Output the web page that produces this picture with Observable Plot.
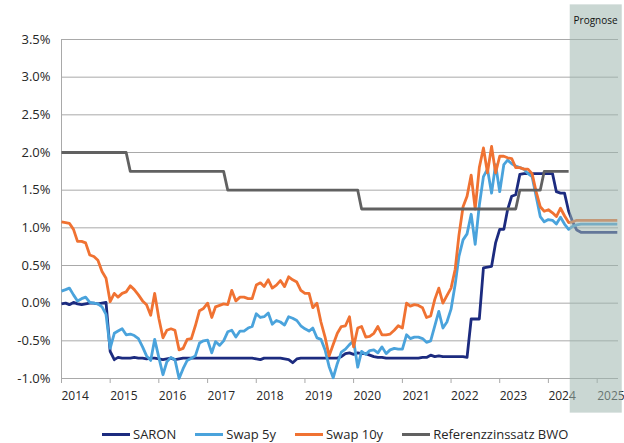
<!DOCTYPE html>
<html><head><meta charset="utf-8">
<script src="https://cdn.jsdelivr.net/npm/d3@7"></script>
<script src="https://cdn.jsdelivr.net/npm/@observablehq/plot@0.6"></script>
<style>
html,body{margin:0;padding:0;background:#fff;overflow:hidden;width:624px;height:443px;position:relative;font-family:"Open Sans",sans-serif;}
#legend{position:absolute;left:102px;top:426px;height:17px;display:flex;align-items:center;font-size:13px;color:#262626;line-height:17px;white-space:nowrap;}
.item{display:flex;align-items:center;margin-right:19px;}
.sw{width:28px;height:3px;margin-right:3px;}
</style></head><body>
<div id="chart"></div>
<div id="legend"></div>
<script>
// Series names and colours
const seriesNames = ["SARON", "Swap 5y", "Swap 10y", "Referenzzinssatz BWO"];
const seriesColors = ["#1c2b7f", "#4aa3dc", "#f07232", "#616161"];

// Monthly values, Jan 2014 (index 0) .. Jun 2024 (index 125), in %
const saron = [
  -0.01, 0.00, -0.02, 0.01, -0.01, -0.02, -0.01, 0.00, 0.00, -0.01, 0.00, 0.01,
  -0.64, -0.75, -0.72, -0.73, -0.73, -0.73, -0.72, -0.73, -0.73, -0.74, -0.73, -0.73,
  -0.74, -0.75, -0.74, -0.73, -0.75, -0.74, -0.73, -0.73, -0.73, -0.73, -0.73, -0.73,
  -0.73, -0.73, -0.73, -0.73, -0.73, -0.73, -0.73, -0.73, -0.73, -0.73, -0.73, -0.73,
  -0.74, -0.75, -0.73, -0.73, -0.73, -0.73, -0.73, -0.74, -0.75, -0.79, -0.74, -0.73,
  -0.73, -0.73, -0.73, -0.73, -0.73, -0.73, -0.73, -0.73, -0.73, -0.71, -0.67, -0.66,
  -0.68, -0.66, -0.67, -0.67, -0.69, -0.71, -0.72, -0.72, -0.73, -0.73, -0.73, -0.73,
  -0.73, -0.73, -0.73, -0.73, -0.73, -0.72, -0.72, -0.69, -0.71, -0.70, -0.71, -0.71,
  -0.71, -0.71, -0.71, -0.71, -0.72, -0.21, -0.21, -0.21, 0.47, 0.48, 0.49, 0.80,
  0.98, 0.98, 1.24, 1.42, 1.44, 1.71, 1.72, 1.72, 1.72, 1.72, 1.72, 1.72,
  1.72, 1.72, 1.48, 1.46, 1.46, 1.22
];
const swap5y = [
  0.16, 0.18, 0.20, 0.11, 0.03, 0.06, 0.08, 0.01, 0.00, -0.01, -0.05, -0.15,
  -0.60, -0.40, -0.37, -0.34, -0.42, -0.41, -0.43, -0.47, -0.58, -0.70, -0.76, -0.48,
  -0.72, -0.95, -0.78, -0.72, -0.75, -1.00, -0.87, -0.76, -0.73, -0.70, -0.53, -0.50,
  -0.49, -0.66, -0.51, -0.56, -0.50, -0.38, -0.36, -0.45, -0.37, -0.37, -0.33, -0.31,
  -0.14, -0.19, -0.18, -0.13, -0.28, -0.23, -0.25, -0.29, -0.18, -0.20, -0.23, -0.30,
  -0.34, -0.37, -0.33, -0.46, -0.48, -0.62, -0.84, -0.99, -0.80, -0.65, -0.61, -0.55,
  -0.50, -0.85, -0.64, -0.68, -0.63, -0.62, -0.66, -0.58, -0.67, -0.62, -0.60, -0.61,
  -0.61, -0.42, -0.47, -0.45, -0.45, -0.47, -0.52, -0.50, -0.30, -0.11, -0.33, -0.25,
  -0.08, 0.25, 0.62, 0.84, 0.92, 1.18, 0.78, 1.30, 1.68, 1.78, 1.46, 1.84,
  1.48, 1.84, 1.90, 1.85, 1.82, 1.80, 1.78, 1.72, 1.68, 1.42, 1.15, 1.08,
  1.11, 1.10, 1.05, 1.14, 1.05, 0.98
];
const swap10y = [
  1.08, 1.07, 1.06, 0.98, 0.82, 0.82, 0.80, 0.64, 0.62, 0.57, 0.42, 0.33,
  0.02, 0.13, 0.08, 0.13, 0.15, 0.23, 0.18, 0.11, 0.03, -0.02, -0.16, 0.13,
  -0.20, -0.46, -0.36, -0.34, -0.36, -0.62, -0.60, -0.48, -0.47, -0.30, -0.10, -0.07,
  0.00, -0.19, -0.05, -0.03, -0.01, -0.02, 0.17, 0.03, 0.08, 0.08, 0.06, 0.06,
  0.24, 0.27, 0.22, 0.31, 0.20, 0.24, 0.30, 0.22, 0.35, 0.31, 0.28, 0.17,
  0.13, 0.13, -0.06, 0.00, -0.25, -0.45, -0.70, -0.55, -0.40, -0.31, -0.30, -0.18,
  -0.58, -0.33, -0.31, -0.45, -0.44, -0.40, -0.31, -0.42, -0.42, -0.41, -0.36, -0.30,
  -0.33, 0.00, -0.04, -0.02, -0.03, -0.06, -0.19, -0.17, 0.05, 0.20, 0.00, 0.10,
  0.20, 0.45, 0.90, 1.28, 1.42, 1.70, 1.25, 1.80, 2.06, 1.73, 2.08, 1.73,
  1.95, 1.95, 1.93, 1.92, 1.80, 1.80, 1.78, 1.78, 1.72, 1.48, 1.28, 1.22,
  1.24, 1.20, 1.15, 1.26, 1.16, 1.07
];

// Forecast values, Jul 2024 (index 126) .. Jun 2025 (index 137)
const saronForecast  = [1.08, 0.97, 0.94, 0.94, 0.94, 0.94, 0.94, 0.94, 0.94, 0.94, 0.94, 0.94];
const swap5yForecast = [1.02, 1.04, 1.05, 1.05, 1.05, 1.05, 1.05, 1.05, 1.05, 1.05, 1.05, 1.05];
const swap10yForecast= [1.08, 1.10, 1.10, 1.10, 1.10, 1.10, 1.10, 1.10, 1.10, 1.10, 1.10, 1.10];

// Referenzzinssatz: vertices (month index since Jan 2014, value)
const refMonths = [0, 16, 17, 40, 41, 73, 74, 112, 113, 118, 119, 125];
const refValues = [2.00, 2.00, 1.75, 1.75, 1.50, 1.50, 1.25, 1.25, 1.50, 1.50, 1.75, 1.75];

// Axis ticks
const yTicks = [-1.0, -0.5, 0.0, 0.5, 1.0, 1.5, 2.0, 2.5, 3.0, 3.5];
const yearTicks = [2014, 2015, 2016, 2017, 2018, 2019, 2020, 2021, 2022, 2023, 2024, 2025];

// Forecast period
const forecastStart = "2024-06-13";
const forecastEnd = "2025-07-08";
const forecastLabel = "Prognose";

const monthDate = i => new Date(Date.UTC(2014, i, 1));
const toRows = (hist, fc) => [...hist, ...fc].map((v, i) => ({date: monthDate(i), value: v}));
const rows = [
  toRows(saron, saronForecast),
  toRows(swap5y, swap5yForecast),
  toRows(swap10y, swap10yForecast),
  refMonths.map((m, i) => ({date: monthDate(m), value: refValues[i]}))
];

const xStart = new Date(Date.UTC(2014, 0, 1));
const xEnd = new Date(Date.UTC(2025, 5, 10));
const gridColor = "#a9a9a9";

const chart = Plot.plot({
  width: 624, height: 420,
  marginTop: 39, marginBottom: 42, marginLeft: 61, marginRight: 6,
  style: {fontFamily: "'Open Sans', sans-serif", fontSize: "13px", color: "#262626", background: "#fff"},
  x: {type: "utc", domain: [xStart, xEnd], label: null},
  y: {domain: [-1, 3.5], label: null},
  marks: [
    Plot.gridY(yTicks, {stroke: gridColor, strokeOpacity: 1, strokeWidth: 1}),
    Plot.ruleX([xStart], {stroke: gridColor, strokeWidth: 1}),
    Plot.ruleY([-1], {stroke: gridColor, strokeWidth: 1}),
    Plot.axisY(yTicks, {tickSize: 0, tickPadding: 11, tickFormat: d => d.toFixed(1) + "%", label: null}),
    Plot.axisX(yearTicks.map(y => new Date(Date.UTC(y, 0, 1))), {tickSize: 5, tickFormat: () => "", stroke: gridColor, label: null}),
    Plot.axisX(yearTicks.map(y => new Date(Date.UTC(y, 0, 1))), {tickSize: 0, tickPadding: 13, tickFormat: "%Y", textAnchor: "start", dx: 0, fontSize: 12, label: null}),
    ...rows.map((r, i) => Plot.line(r, {x: "date", y: "value", stroke: seriesColors[i], strokeWidth: 2.8, strokeLinejoin: "round", strokeLinecap: "butt"})),
    Plot.rect([{x1: new Date(forecastStart), x2: new Date(forecastEnd)}], {x1: "x1", x2: "x2", y1: -1.46, y2: 3.96, fill: "#9fb6ae", fillOpacity: 0.55}),
    Plot.text([forecastLabel], {x: new Date("2024-12-20"), y: 3.75, text: d => d, fontSize: 10, fill: "#111"})
  ]
});
document.getElementById("chart").appendChild(chart);

const legend = document.getElementById("legend");
seriesNames.forEach((name, i) => {
  const item = document.createElement("div");
  item.className = "item";
  const sw = document.createElement("div");
  sw.className = "sw";
  sw.style.background = seriesColors[i];
  const lab = document.createElement("span");
  lab.textContent = name;
  item.appendChild(sw);
  item.appendChild(lab);
  legend.appendChild(item);
});
</script>
</body></html>
